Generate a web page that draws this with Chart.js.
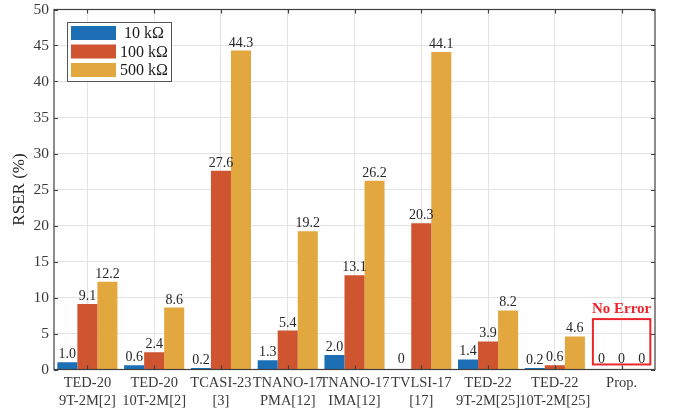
<!DOCTYPE html>
<html>
<head>
<meta charset="utf-8">
<script src="https://cdn.jsdelivr.net/npm/chart.js@4"></script>
<style>
  html, body { margin: 0; padding: 0; background: #ffffff; }
  #wrap { width: 676px; height: 415px; }
</style>
</head>
<body>
<div id="wrap"><canvas id="c" width="676" height="415"></canvas></div>
<script>
// Categories (two-line tick labels)
const categories = [
  ['TED-20', '9T-2M[2]'],
  ['TED-20', '10T-2M[2]'],
  ['TCASI-23', '[3]'],
  ['TNANO-17', 'PMA[12]'],
  ['TNANO-17', 'IMA[12]'],
  ['TVLSI-17', '[17]'],
  ['TED-22', '9T-2M[25]'],
  ['TED-22', '10T-2M[25]'],
  ['Prop.', '']
];

// RSER (%) per sense resistance
const rser10k  = [1.0, 0.6, 0.2, 1.3, 2.0, 0, 1.4, 0.2, 0];
const rser100k = [9.1, 2.4, 27.6, 5.4, 13.1, 20.3, 3.9, 0.6, 0];
const rser500k = [12.2, 8.6, 44.3, 19.2, 26.2, 44.1, 8.2, 4.6, 0];

const seriesNames = ['10 k\u03A9', '100 k\u03A9', '500 k\u03A9'];
const seriesColors = ['#1c6fb5', '#cf5530', '#e2a73e'];

// Y axis range and ticks
const yMin = 0, yMax = 50, yStep = 5;

// Highlight around the proposed design (category index, value range)
const highlightIndex = 8;
const highlightRange = [0.7, 7.0];
const highlightText = 'No Error';

const SERIF = '"Liberation Serif", "Times New Roman", serif';
const AXIS_COLOR = '#404040';
const TEXT_COLOR = '#3a3a3a';

const fmt = v => (v === 0 ? '0' : v.toFixed(1));

// Value labels above each bar
const valueLabels = {
  id: 'valueLabels',
  afterDatasetsDraw(chart) {
    const ctx = chart.ctx;
    ctx.save();
    ctx.font = '14px ' + SERIF;
    ctx.fillStyle = '#262626';
    ctx.textAlign = 'center';
    ctx.textBaseline = 'alphabetic';
    chart.data.datasets.forEach((ds, di) => {
      const meta = chart.getDatasetMeta(di);
      meta.data.forEach((bar, i) => {
        const v = ds.data[i];
        const off = v === 0 ? 7 : 4;
        ctx.fillText(fmt(v), bar.x, bar.y - off);
      });
    });
    ctx.restore();
  }
};

// Axes box with inward tick marks on all four sides
const axesBox = {
  id: 'axesBox',
  afterDatasetsDraw(chart) {
    const { ctx, chartArea: a, scales: { x, y } } = chart;
    ctx.save();
    ctx.strokeStyle = AXIS_COLOR;
    ctx.lineWidth = 1.2;
    ctx.strokeRect(a.left, a.top, a.right - a.left, a.bottom - a.top);
    const tl = 4;
    ctx.beginPath();
    y.ticks.forEach((t, i) => {
      const py = Math.round(y.getPixelForTick(i)) + 0.5;
      ctx.moveTo(a.left, py); ctx.lineTo(a.left + tl, py);
      ctx.moveTo(a.right, py); ctx.lineTo(a.right - tl, py);
    });
    x.ticks.forEach((t, i) => {
      const px = Math.round(x.getPixelForValue(i)) + 0.5;
      ctx.moveTo(px, a.bottom); ctx.lineTo(px, a.bottom - tl);
      ctx.moveTo(px, a.top); ctx.lineTo(px, a.top + tl);
    });
    ctx.stroke();
    ctx.restore();
  }
};

// Legend box inside the plot area
const innerLegend = {
  id: 'innerLegend',
  afterDraw(chart) {
    const { ctx, chartArea: a } = chart;
    const bx = a.left + 13, by = a.top + 12.5, bw = 104, bh = 59;
    ctx.save();
    ctx.fillStyle = '#ffffff';
    ctx.fillRect(bx, by, bw, bh);
    ctx.strokeStyle = '#555555';
    ctx.lineWidth = 1;
    ctx.strokeRect(bx + 0.5, by + 0.5, bw, bh);
    ctx.font = '16px ' + SERIF;
    ctx.textAlign = 'center';
    ctx.textBaseline = 'middle';
    chart.data.datasets.forEach((ds, i) => {
      const cy = by + 11 + i * 18.5;
      ctx.fillStyle = ds.backgroundColor;
      ctx.fillRect(bx + 4, cy - 7, 45, 14);
      ctx.fillStyle = '#1a1a1a';
      ctx.fillText(ds.label, bx + 77, cy + 1);
    });
    ctx.restore();
  }
};

// Red frame and caption around the proposed design
const highlight = {
  id: 'highlight',
  afterDraw(chart) {
    const { ctx, scales: { x, y } } = chart;
    const cx = x.getPixelForValue(highlightIndex);
    const half = (x.getPixelForValue(1) - x.getPixelForValue(0)) * 0.43;
    const top = y.getPixelForValue(highlightRange[1]);
    const bottom = y.getPixelForValue(highlightRange[0]);
    ctx.save();
    ctx.strokeStyle = '#e8262b';
    ctx.lineWidth = 2;
    ctx.strokeRect(cx - half, top, half * 2, bottom - top);
    ctx.fillStyle = '#e8262b';
    ctx.font = 'bold 15px ' + SERIF;
    ctx.textAlign = 'center';
    ctx.textBaseline = 'alphabetic';
    ctx.fillText(highlightText, cx, top - 6);
    ctx.restore();
  }
};

new Chart(document.getElementById('c'), {
  type: 'bar',
  data: {
    labels: categories,
    datasets: [
      { label: seriesNames[0], data: rser10k,  backgroundColor: seriesColors[0] },
      { label: seriesNames[1], data: rser100k, backgroundColor: seriesColors[1] },
      { label: seriesNames[2], data: rser500k, backgroundColor: seriesColors[2] }
    ]
  },
  options: {
    responsive: false,
    animation: false,
    devicePixelRatio: 1,
    layout: { padding: { left: 0, right: 21, top: 9.5, bottom: 0 } },
    datasets: { bar: { categoryPercentage: 0.9, barPercentage: 1.0, borderWidth: 0 } },
    plugins: {
      legend: { display: false },
      tooltip: { enabled: false }
    },
    scales: {
      x: {
        grid: { offset: false, color: '#e3e3e3', lineWidth: 1, drawTicks: false },
        border: { display: false },
        ticks: {
          color: TEXT_COLOR,
          font: { family: SERIF, size: 14.5, lineHeight: 1.22 },
          padding: 5,
          maxRotation: 0,
          autoSkip: false
        },
        afterFit(scale) { scale.height = 45.5; }
      },
      y: {
        min: yMin,
        max: yMax,
        grid: { color: '#e3e3e3', lineWidth: 1, drawTicks: false },
        border: { display: false },
        ticks: {
          stepSize: yStep,
          color: TEXT_COLOR,
          font: { family: SERIF, size: 15.5, lineHeight: 0.5 },
          padding: 5
        },
        title: {
          display: true,
          text: 'RSER (%)',
          color: '#262626',
          font: { family: SERIF, size: 17 },
          padding: { top: 9, bottom: 0 }
        },
        afterFit(scale) { scale.width = 54; }
      }
    }
  },
  plugins: [valueLabels, axesBox, innerLegend, highlight]
});
</script>
</body>
</html>
